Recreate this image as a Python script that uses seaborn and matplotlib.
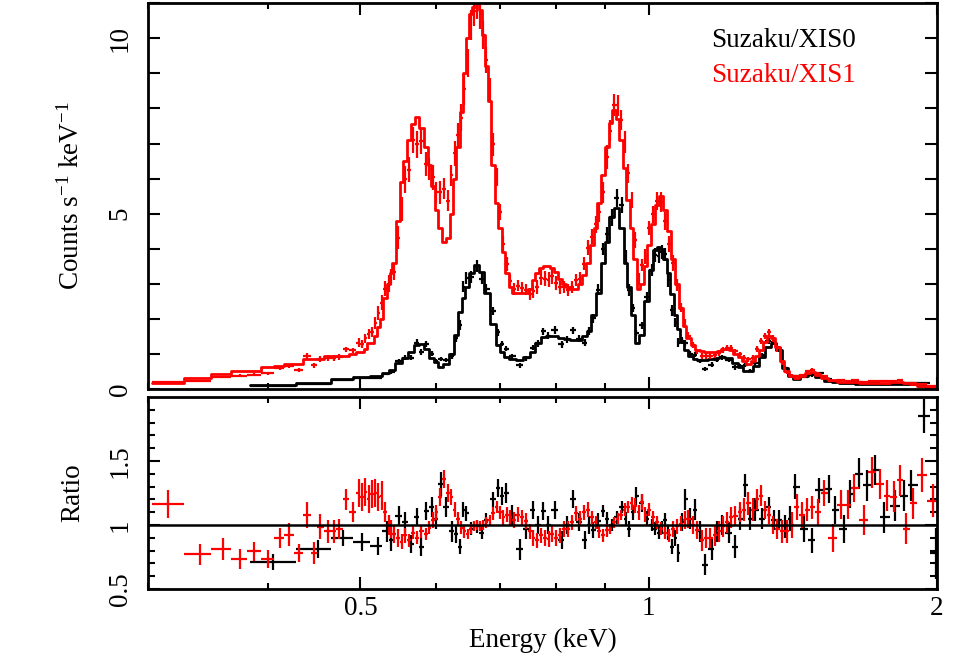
import numpy as np
import matplotlib
matplotlib.use("Agg")
import matplotlib.pyplot as plt
import seaborn as sns
from matplotlib.ticker import FixedLocator, FixedFormatter, NullFormatter

# ---------------- Suzaku/XIS1 (red) ----------------
xis1_energy = (
    [0.315, 0.340, 0.359, 0.374, 0.387, 0.400, 0.412, 0.421, 0.431, 0.440,
     0.447, 0.454, 0.462, 0.469, 0.475, 0.483, 0.491]
    + [0.498, 0.502, 0.506, 0.510, 0.514, 0.518, 0.522, 0.526]
    + [0.531, 0.535, 0.538, 0.542, 0.547, 0.552, 0.557, 0.562, 0.567, 0.573,
       0.579, 0.585, 0.590, 0.595, 0.600, 0.605, 0.611, 0.617, 0.622, 0.627,
       0.632, 0.637, 0.642, 0.647, 0.652, 0.657, 0.662, 0.667, 0.672, 0.677,
       0.682, 0.688, 0.694, 0.699, 0.705, 0.711, 0.717, 0.724, 0.730, 0.737,
       0.744, 0.751, 0.758, 0.765, 0.772, 0.779, 0.786, 0.793, 0.800]
    + [0.808, 0.816, 0.824, 0.832, 0.840, 0.848, 0.856, 0.864, 0.872, 0.880,
       0.888, 0.896, 0.904, 0.912, 0.920, 0.928, 0.936, 0.944, 0.952, 0.960,
       0.968, 0.976, 0.984, 0.992, 1.000]
    + [1.010, 1.020, 1.030, 1.040, 1.050, 1.060, 1.070, 1.080, 1.090, 1.100,
       1.112, 1.124, 1.136, 1.148, 1.160, 1.172, 1.184, 1.196, 1.208, 1.220,
       1.232, 1.245, 1.258, 1.271, 1.284, 1.297, 1.310, 1.323, 1.336, 1.349,
       1.362, 1.378, 1.394, 1.410, 1.428, 1.446, 1.464, 1.482, 1.502, 1.525,
       1.556, 1.588, 1.615, 1.640, 1.678, 1.712, 1.745, 1.774, 1.803, 1.831,
       1.858, 1.887, 1.927, 1.980]
)
xis1_model = (
    [0.18, 0.30, 0.43, 0.52, 0.52, 0.62, 0.66, 0.70, 0.70, 0.87,
     0.87, 0.87, 0.94, 0.94, 0.94, 0.94, 1.00]
    + [1.06, 1.06, 1.15, 1.31, 1.31, 1.50, 1.78, 2.00]
    + [2.6, 3.0, 3.3, 3.6, 4.8, 5.9, 6.5, 7.1, 7.55, 7.75,
       7.45, 6.9, 6.4, 5.8, 5.1, 4.6, 4.2, 4.3, 5.0, 6.0,
       6.9, 7.9, 9.0, 10.0, 10.7, 10.9, 11.0, 10.8, 10.1, 9.2,
       8.2, 6.4, 5.3, 4.6, 3.9, 3.3, 2.9, 2.75, 2.73, 2.73,
       2.75, 2.85, 3.1, 3.3, 3.45, 3.5, 3.5, 3.45, 3.35]
    + [3.15, 3.0, 2.9, 2.85, 2.85, 3.0, 3.25, 3.6, 4.1, 4.6,
       5.3, 6.1, 6.9, 7.6, 7.95, 7.7, 7.1, 6.3, 5.4, 4.6,
       3.7, 2.85, 3.0, 3.5, 4.1]
    + [4.7, 5.25, 5.5, 5.1, 4.5, 3.7, 3.0, 2.3, 1.8, 1.45,
       1.25, 1.12, 1.07, 1.05, 1.05, 1.06, 1.09, 1.13, 1.15, 1.1,
       1.0, 0.9, 0.8, 0.72, 0.8, 0.95, 1.12, 1.35, 1.5, 1.45,
       1.2, 0.8, 0.5, 0.38, 0.32, 0.36, 0.45, 0.48, 0.4, 0.3,
       0.25, 0.21, 0.2, 0.19, 0.18, 0.17, 0.17, 0.18, 0.19, 0.2,
       0.18, 0.14, 0.1, 0.07]
)
xis1_ratio = (
    [1.165, 0.77, 0.81, 0.735, 0.795, 0.735, 0.90, 0.926, 0.78, 1.076,
     0.78, 0.987, 0.953, 0.953, 0.97, 1.20, 1.10]
    + [1.25, 1.22, 1.26, 1.20, 1.24, 1.25, 1.22, 1.23]
    + [1.10, 1.00, 0.97, 0.93, 0.90, 0.87, 0.92, 0.88, 0.94, 0.90,
       0.95, 0.93, 0.98, 1.04, 1.10, 1.22, 1.36, 1.25, 1.22, 1.12,
       1.05, 0.98, 0.95, 0.93, 0.97, 0.99, 1.00, 0.99, 1.00, 1.02,
       1.04, 1.09, 1.14, 1.10, 1.06, 1.08, 1.06, 1.04, 1.08, 1.06,
       1.03, 0.95, 0.90, 0.88, 0.92, 0.90, 0.89, 0.93, 0.90]
    + [0.92, 0.97, 0.97, 1.02, 1.09, 1.05, 1.10, 1.12, 1.06, 1.02,
       0.95, 0.92, 0.96, 0.97, 1.02, 1.05, 1.08, 1.12, 1.14, 1.17,
       1.15, 1.10, 1.18, 1.08, 1.12]
    + [1.06, 1.02, 0.97, 0.94, 0.92, 0.97, 0.99, 1.01, 1.04, 1.05,
       1.00, 0.96, 0.88, 0.90, 0.90, 0.92, 0.95, 0.99, 1.02, 1.06,
       1.07, 1.10, 1.12, 1.17, 1.12, 1.20, 1.23, 1.12, 1.08, 1.00,
       0.97, 0.95, 0.95, 1.00, 1.14, 1.08, 1.12, 1.14, 1.10, 1.25,
       0.90, 1.16, 1.16, 1.29, 1.04, 1.41, 1.32, 1.23, 1.22, 1.35,
       0.97, 1.17, 1.39, 1.19]
)
xis1_ratio_err = (
    [0.11, 0.08, 0.085, 0.075, 0.075, 0.07, 0.08, 0.09, 0.07, 0.10,
     0.085, 0.10, 0.09, 0.09, 0.08, 0.08, 0.08]
    + [0.11, 0.11, 0.11, 0.11, 0.11, 0.11, 0.11, 0.11]
    + [0.08, 0.08, 0.07, 0.07, 0.07, 0.06, 0.06, 0.05, 0.05, 0.05,
       0.05, 0.05, 0.05, 0.06, 0.06, 0.07, 0.07, 0.07, 0.06, 0.06,
       0.05, 0.05, 0.05, 0.04, 0.04, 0.04, 0.04, 0.04, 0.04, 0.04,
       0.04, 0.05, 0.05, 0.05, 0.06, 0.06, 0.06, 0.06, 0.06, 0.06,
       0.06, 0.06, 0.06, 0.06, 0.06, 0.06, 0.06, 0.06, 0.06]
    + [0.06, 0.06, 0.06, 0.06, 0.06, 0.06, 0.06, 0.06, 0.05, 0.05,
       0.05, 0.05, 0.05, 0.04, 0.04, 0.04, 0.04, 0.05, 0.05, 0.05,
       0.06, 0.06, 0.06, 0.06, 0.05]
    + [0.05, 0.05, 0.05, 0.05, 0.05, 0.06, 0.06, 0.06, 0.07, 0.07,
       0.07, 0.07, 0.08, 0.08, 0.08, 0.08, 0.08, 0.08, 0.08, 0.08,
       0.08, 0.08, 0.09, 0.09, 0.09, 0.08, 0.08, 0.07, 0.07, 0.07,
       0.08, 0.09, 0.09, 0.10, 0.10, 0.10, 0.09, 0.09, 0.10, 0.10,
       0.11, 0.11, 0.11, 0.11, 0.12, 0.12, 0.12, 0.12, 0.12, 0.12,
       0.12, 0.12, 0.13, 0.13]
)

# ---------------- Suzaku/XIS0 (black) ----------------
xis0_energy = [
    0.405, 0.452, 0.480, 0.502, 0.521, 0.533, 0.538, 0.549, 0.557, 0.565,
    0.573, 0.579, 0.585, 0.594, 0.599, 0.607, 0.614, 0.623, 0.629, 0.636,
    0.640, 0.645, 0.653, 0.661, 0.669, 0.677, 0.688, 0.696, 0.702, 0.710,
    0.719, 0.733, 0.745, 0.757, 0.766, 0.776, 0.785, 0.798, 0.811, 0.822,
    0.834, 0.846, 0.858, 0.866, 0.875, 0.886, 0.896, 0.905, 0.915, 0.926,
    0.937, 0.946, 0.954, 0.963, 0.971, 0.983, 0.995, 1.007, 1.016, 1.024,
    1.032, 1.040, 1.048, 1.057, 1.066, 1.074, 1.083, 1.092, 1.105, 1.118,
    1.131, 1.145, 1.164, 1.178, 1.192, 1.212, 1.231, 1.246, 1.261, 1.277,
    1.292, 1.313, 1.335, 1.350, 1.367, 1.389, 1.405, 1.423, 1.452, 1.481,
    1.505, 1.542, 1.566, 1.598, 1.624, 1.657, 1.692, 1.725, 1.760, 1.810,
    1.848, 1.881, 1.939, 1.994]
xis0_model = [
    0.11, 0.18, 0.28, 0.35, 0.37, 0.45, 0.55, 0.75, 0.88, 1.05,
    1.25, 1.28, 1.15, 0.88, 0.76, 0.64, 0.72, 1.00, 1.55, 2.20,
    2.60, 2.90, 3.30, 3.55, 3.35, 2.75, 1.85, 1.25, 1.05, 0.92,
    0.86, 0.83, 0.90, 1.05, 1.30, 1.48, 1.52, 1.50, 1.45, 1.42,
    1.40, 1.40, 1.50, 1.65, 2.10, 2.75, 3.60, 4.20, 4.90, 5.15,
    4.60, 3.60, 2.90, 2.10, 1.30, 1.55, 2.50, 3.40, 3.95, 4.05,
    4.00, 3.70, 3.30, 2.70, 2.10, 1.70, 1.35, 1.10, 0.95, 0.87,
    0.84, 0.83, 0.85, 0.88, 0.90, 0.88, 0.75, 0.62, 0.52, 0.50,
    0.65, 0.92, 1.20, 1.30, 1.10, 0.60, 0.36, 0.28, 0.36, 0.44,
    0.35, 0.22, 0.19, 0.17, 0.16, 0.15, 0.14, 0.14, 0.14, 0.15,
    0.15, 0.13, 0.09, 0.06]
xis0_ratio = [
    0.71, 0.81, 0.90, 0.866, 0.835, 0.95, 0.88, 1.07, 1.02, 0.85,
    1.06, 0.83, 1.11, 1.14, 1.05, 1.32, 1.14, 0.95, 0.93, 0.83,
    1.12, 1.09, 0.97, 0.99, 0.94, 1.04, 1.20, 1.29, 1.23, 1.25,
    1.08, 0.81, 0.97, 1.12, 1.00, 1.11, 1.00, 1.12, 0.88, 1.00,
    1.20, 1.02, 0.88, 1.00, 0.96, 1.03, 1.11, 1.05, 1.00, 1.06,
    1.14, 1.05, 0.97, 1.10, 1.23, 1.17, 1.05, 1.00, 0.97, 0.94,
    0.98, 1.04, 0.94, 0.83, 0.90, 0.78, 1.02, 1.20, 1.05, 1.12,
    0.95, 0.69, 0.81, 0.95, 1.00, 0.94, 0.83, 1.05, 1.31, 1.05,
    1.12, 1.05, 1.14, 1.04, 1.04, 0.99, 1.05, 1.30, 0.97, 0.88,
    1.27, 1.28, 1.12, 0.97, 1.24, 1.40, 1.31, 1.43, 1.06, 1.15,
    1.23, 1.31, 1.85, 0.78]
xis0_ratio_err = [
    0.06, 0.07, 0.06, 0.07, 0.07, 0.08, 0.08, 0.08, 0.08, 0.07,
    0.07, 0.07, 0.07, 0.08, 0.08, 0.09, 0.08, 0.08, 0.07, 0.06,
    0.06, 0.06, 0.05, 0.05, 0.05, 0.05, 0.06, 0.07, 0.07, 0.08,
    0.08, 0.08, 0.08, 0.07, 0.07, 0.07, 0.07, 0.07, 0.07, 0.07,
    0.07, 0.07, 0.07, 0.07, 0.06, 0.06, 0.05, 0.05, 0.05, 0.05,
    0.05, 0.05, 0.06, 0.06, 0.07, 0.07, 0.06, 0.05, 0.05, 0.05,
    0.05, 0.05, 0.06, 0.06, 0.06, 0.07, 0.07, 0.08, 0.08, 0.08,
    0.08, 0.08, 0.08, 0.08, 0.08, 0.08, 0.09, 0.09, 0.09, 0.09,
    0.09, 0.08, 0.08, 0.08, 0.08, 0.09, 0.10, 0.10, 0.10, 0.10,
    0.10, 0.11, 0.11, 0.11, 0.11, 0.12, 0.12, 0.12, 0.12, 0.12,
    0.12, 0.12, 0.13, 0.20]

labels = ["Suzaku/XIS0", "Suzaku/XIS1"]
colors = ["black", "red"]

for arrs in [(xis1_energy, xis1_model, xis1_ratio, xis1_ratio_err),
             (xis0_energy, xis0_model, xis0_ratio, xis0_ratio_err)]:
    assert len(set(len(a) for a in arrs)) == 1, [len(a) for a in arrs]

# ---------------- style ----------------
sns.set_theme(style="ticks")
plt.rcParams["font.family"] = ["Liberation Serif", "DejaVu Serif"]
plt.rcParams["mathtext.fontset"] = "custom"
plt.rcParams["mathtext.rm"] = "Liberation Serif"
plt.rcParams["mathtext.it"] = "Liberation Serif:italic"
plt.rcParams["mathtext.bf"] = "Liberation Serif:bold"
plt.rcParams["text.color"] = "black"
plt.rcParams["axes.labelcolor"] = "black"
plt.rcParams["xtick.color"] = "black"
plt.rcParams["ytick.color"] = "black"
plt.rcParams["xtick.labelcolor"] = "black"
plt.rcParams["ytick.labelcolor"] = "black"
FS = 19.5

fig = plt.figure(figsize=(9.61, 6.56), dpi=100)
ax1 = fig.add_axes([0.154, 0.407, 0.821, 0.588])
ax2 = fig.add_axes([0.154, 0.102, 0.821, 0.293])


def bin_edges(e):
    e = np.asarray(e, dtype=float)
    mid = np.sqrt(e[:-1] * e[1:])
    lo = np.concatenate([[e[0] ** 2 / mid[0]], mid])
    hi = np.concatenate([mid, [e[-1] ** 2 / mid[-1]]])
    return lo, hi


datasets = [
    (xis0_energy, xis0_model, xis0_ratio, xis0_ratio_err, colors[0]),
    (xis1_energy, xis1_model, xis1_ratio, xis1_ratio_err, colors[1]),
]

for E, M, R, S, col in datasets:
    E = np.asarray(E, float)
    M = np.asarray(M, float)
    R = np.asarray(R, float)
    S = np.asarray(S, float)
    lo, hi = bin_edges(E)
    step_x = np.column_stack([lo, hi]).ravel()
    step_y = np.repeat(M, 2)
    sns.lineplot(x=step_x, y=step_y, ax=ax1, color=col, lw=2.0,
                 sort=False, estimator=None, legend=False)
    xerr = [E - lo, hi - E]
    ax1.errorbar(E, M * R, yerr=M * S, xerr=xerr, fmt="none",
                 ecolor=col, elinewidth=1.6, capsize=0)
    ax2.errorbar(E, R, yerr=S, xerr=xerr, fmt="none",
                 ecolor=col, elinewidth=1.6, capsize=0)

ax2.axhline(1.0, color="black", lw=1.8, zorder=5)

for ax in (ax1, ax2):
    ax.set_xscale("log")
    ax.set_xlim(0.3, 2.0)
    ax.xaxis.set_major_locator(FixedLocator([0.5, 1.0, 2.0]))
    ax.xaxis.set_minor_locator(FixedLocator([0.3, 0.4, 0.6, 0.7, 0.8, 0.9]))
    ax.xaxis.set_minor_formatter(NullFormatter())
    for sp in ax.spines.values():
        sp.set_linewidth(2.0)
        sp.set_color("black")
    ax.tick_params(which="both", direction="in", top=True, right=True,
                   width=1.5, colors="black", labelcolor="black",
                   labelsize=FS)
    ax.tick_params(axis="x", which="major", length=8.6, pad=5)
    ax.tick_params(axis="x", which="minor", length=4.5)
    ax.set_facecolor("white")

ax1.set_ylim(0, 11.0)
ax1.yaxis.set_major_locator(FixedLocator([0, 5, 10]))
ax1.yaxis.set_major_formatter(FixedFormatter(["0", "5", "10"]))
ax1.yaxis.set_minor_locator(FixedLocator(list(range(0, 12))))
ax1.tick_params(axis="y", which="both", length=8.6)
ax1.tick_params(axis="x", labelbottom=False)

ax2.set_ylim(0.5, 2.0)
ax2.yaxis.set_major_locator(FixedLocator([0.5, 1.0, 1.5]))
ax2.yaxis.set_major_formatter(FixedFormatter(["0.5", "1", "1.5"]))
ax2.yaxis.set_minor_locator(FixedLocator([0.6, 0.7, 0.8, 0.9, 1.1, 1.2, 1.3,
                                          1.4, 1.6, 1.7, 1.8, 1.9]))
ax2.yaxis.set_minor_formatter(NullFormatter())
ax2.tick_params(axis="y", which="major", length=8.6)
ax2.tick_params(axis="y", which="minor", length=5)
ax2.xaxis.set_major_formatter(FixedFormatter(["0.5", "1", "2"]))

for ax in (ax1, ax2):
    ax.tick_params(axis="y", labelrotation=90, pad=11)
    for t in ax.get_yticklabels():
        t.set_verticalalignment("center")

ax1.set_xlabel("")
ax1.set_ylabel(r"Counts s$^{-1}$ keV$^{-1}$", fontsize=FS, color="black")
ax2.set_ylabel("Ratio", fontsize=FS, color="black")
ax2.set_xlabel("Energy (keV)", fontsize=FS, color="black")
ax1.yaxis.set_label_coords(-0.08, 0.5)
ax2.yaxis.set_label_coords(-0.08, 0.5)
ax2.xaxis.set_label_coords(0.5, -0.2)

ax1.text(0.897, 0.886, labels[0], transform=ax1.transAxes, ha="right",
         va="baseline", fontsize=FS, color=colors[0])
ax1.text(0.897, 0.796, labels[1], transform=ax1.transAxes, ha="right",
         va="baseline", fontsize=FS, color=colors[1])

fig.savefig("out.png", dpi=100, facecolor="white")
